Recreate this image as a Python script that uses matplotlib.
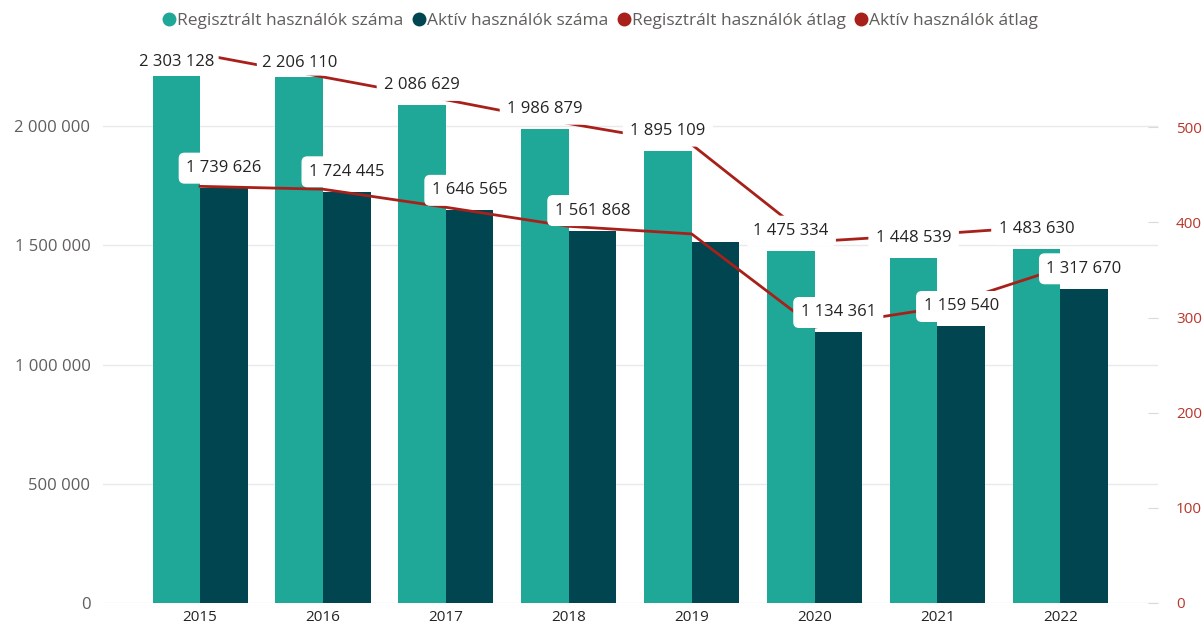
import matplotlib
matplotlib.use("Agg")
import matplotlib.pyplot as plt
from matplotlib.lines import Line2D

plt.rcParams['font.family'] = ['Open Sans', 'DejaVu Sans']

# data
years = ["2015", "2016", "2017", "2018", "2019", "2020", "2021", "2022"]
registered = [2303128, 2206110, 2086629, 1986879, 1895109, 1475334, 1448539, 1483630]
active = [1739626, 1724445, 1646565, 1561868, 1515000, 1134361, 1159540, 1317670]
active_labelled = [True, True, True, True, False, True, True, True]
registered_avg = [577, 553, 529, 504, 482, 380, 388, 397]
active_avg = [438, 435, 416, 396, 388, 290, 310, 352]

c_reg = "#1FA797"
c_act = "#00454F"
c_line = "#A8201A"
c_tick = "#605E5C"
c_lab = "#252423"

W, H = 1203, 628
fig = plt.figure(figsize=(W / 100, H / 100), dpi=100)
ax = fig.add_axes([103 / W, 25 / H, 1055 / W, (603 - 76) / H])
ax2 = ax.twinx()

x = list(range(len(years)))
bw = 0.387
ymax = 2210000
rmax = 554

ax.bar([i - bw / 2 for i in x], registered, bw, color=c_reg, zorder=2)
ax.bar([i + bw / 2 for i in x], active, bw, color=c_act, zorder=2)

ax.set_ylim(0, ymax)
ax.set_xlim(-0.79, 7.795)
ax.set_yticks([0, 500000, 1000000, 1500000, 2000000])
ax.set_yticklabels([f"{v:,}".replace(",", " ") for v in ax.get_yticks().astype(int)])
ax.grid(axis="y", color="#EAEAEA", lw=1, zorder=0)
ax.set_xticks(x)
ax.set_xticklabels(years)
ax.tick_params(axis="y", length=0, pad=9, labelsize=12, labelcolor=c_tick)
ax.tick_params(axis="x", length=0, pad=5, labelsize=11, labelcolor=c_lab)
for s in ax.spines.values():
    s.set_visible(False)

# right axis with average lines
ax2.plot(x, registered_avg, color=c_line, lw=2, clip_on=False, zorder=3)
ax2.plot(x, active_avg, color=c_line, lw=2, clip_on=False, zorder=3)
ax2.set_ylim(0, rmax)
ax2.set_yticks([0, 100, 200, 300, 400, 500])
ax2.tick_params(axis="y", direction="in", length=7, color="#DADADA", pad=13,
                labelsize=11, labelcolor="#B8362C")
for s in ax2.spines.values():
    s.set_visible(False)

# bar labels on top of everything
for i in x:
    for off, vals, show in ((-bw / 2, registered, True), (bw / 2, active, active_labelled[i])):
        if not show:
            continue
        v = vals[i]
        clipped = v >= ymax * 0.995
        dy = 14 if clipped else 20
        pad = 0.28 if clipped else 0.45
        box = dict(boxstyle=f"round,pad={pad},rounding_size=0.35", fc="white", ec="none")
        ax2.annotate(f"{v:,}".replace(",", " "), xy=(i + off, min(v, ymax) / ymax * rmax),
                     xytext=(0, dy), textcoords="offset pixels", ha="center", va="center",
                     fontsize=12, color=c_lab, bbox=box, zorder=5, annotation_clip=False)

handles = [
    Line2D([], [], marker="o", ls="", color=c_reg, markersize=9),
    Line2D([], [], marker="o", ls="", color=c_act, markersize=9),
    Line2D([], [], marker="o", ls="", color=c_line, markersize=9),
    Line2D([], [], marker="o", ls="", color=c_line, markersize=9),
]
names = ["Regisztrált használók száma", "Aktív használók száma",
         "Regisztrált használók átlag", "Aktív használók átlag"]
fig.legend(handles, names, loc="center", bbox_to_anchor=(601 / W, 1 - 21 / H), ncol=4,
           frameon=False, handlelength=0.6, handletextpad=0.15, columnspacing=0.6,
           fontsize=12.5, labelcolor=c_tick)

fig.savefig("out.png", dpi=100)
